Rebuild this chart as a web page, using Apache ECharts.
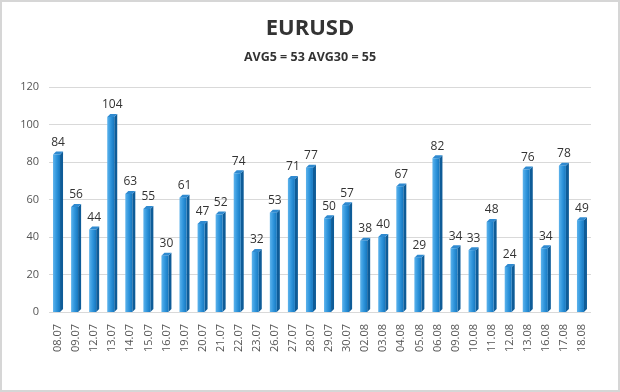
<!DOCTYPE html>
<html><head><meta charset="utf-8">
<script src="https://cdn.jsdelivr.net/npm/echarts@6/dist/echarts.min.js"></script>
<style>html,body{margin:0;padding:0;background:#fff}#c{width:620px;height:392px;box-sizing:border-box;border:2px solid #d6d6d6}</style>
</head><body><div id="c"></div>
<script>
var categories = ['08.07','09.07','12.07','13.07','14.07','15.07','16.07','19.07','20.07','21.07','22.07','23.07','26.07','27.07','28.07','29.07','30.07','02.08','03.08','04.08','05.08','06.08','09.08','10.08','11.08','12.08','13.08','16.08','17.08','18.08'];
var values = [84,56,44,104,63,55,30,61,47,52,74,32,53,71,77,50,57,38,40,67,29,82,34,33,48,24,76,34,78,49];
var titleText = 'EURUSD';
var subtitleText = 'AVG5 = 53 AVG30 = 55';

var chart = echarts.init(document.getElementById('c'));
function renderBar(params, api){
  var i = api.value(0), v = api.value(1);
  var top = api.coord([i, v]);
  var base = api.coord([i, 0]);
  var cx = top[0], ty = top[1], by = base[1];
  var fl = cx - 5, fr = cx + 2, d = 3, dy = 3;
  return {
    type: 'group',
    children: [
      {type:'polygon', shape:{points:[[fr,ty],[fr+d,ty-dy],[fr+d,by-dy],[fr,by]]}, style:{fill:'#0e5c98'}},
      {type:'polygon', shape:{points:[[fl,ty],[fr,ty],[fr+d,ty-dy],[fl+d,ty-dy]]}, style:{fill:'#2f8ad0'}},
      {type:'rect', shape:{x:fl, y:ty, width:fr-fl, height:by-ty}, style:{fill:new echarts.graphic.LinearGradient(0,0,1,0,[{offset:0,color:'#5db3ec'},{offset:0.5,color:'#2f95dc'},{offset:1,color:'#1677bf'}])}},
      {type:'text', style:{text:String(v), x:cx, y:ty-6, align:'center', verticalAlign:'bottom', fill:'#333', font:'12px "Open Sans", sans-serif'}}
    ]
  };
}
chart.setOption({
  animation:false,
  title:[
    {text:titleText, left:'center', top:11, textStyle:{fontFamily:'Open Sans', fontWeight:'bold', fontSize:22, color:'#333'}},
    {text:subtitleText, left:'center', top:44, textStyle:{fontFamily:'Open Sans', fontWeight:'bold', fontSize:12.5, color:'#333'}}
  ],
  grid:{left:47, right:27, top:85, bottom:78},
  xAxis:{type:'category', data:categories, axisTick:{show:false},
    axisLine:{show:false},
    axisLabel:{rotate:90, margin:12, color:'#555', fontSize:11, fontFamily:'Open Sans', interval:0}},
  yAxis:{type:'value', min:0, max:120, interval:20,
    axisLabel:{color:'#555', fontSize:11, fontFamily:'Open Sans', margin:10},
    splitLine:{lineStyle:{color:'#d9d9d9'}}},
  series:[{type:'custom', renderItem:renderBar, data:values.map(function(v,i){return [i,v];}), encode:{x:0,y:1}}]
});
</script></body></html>
